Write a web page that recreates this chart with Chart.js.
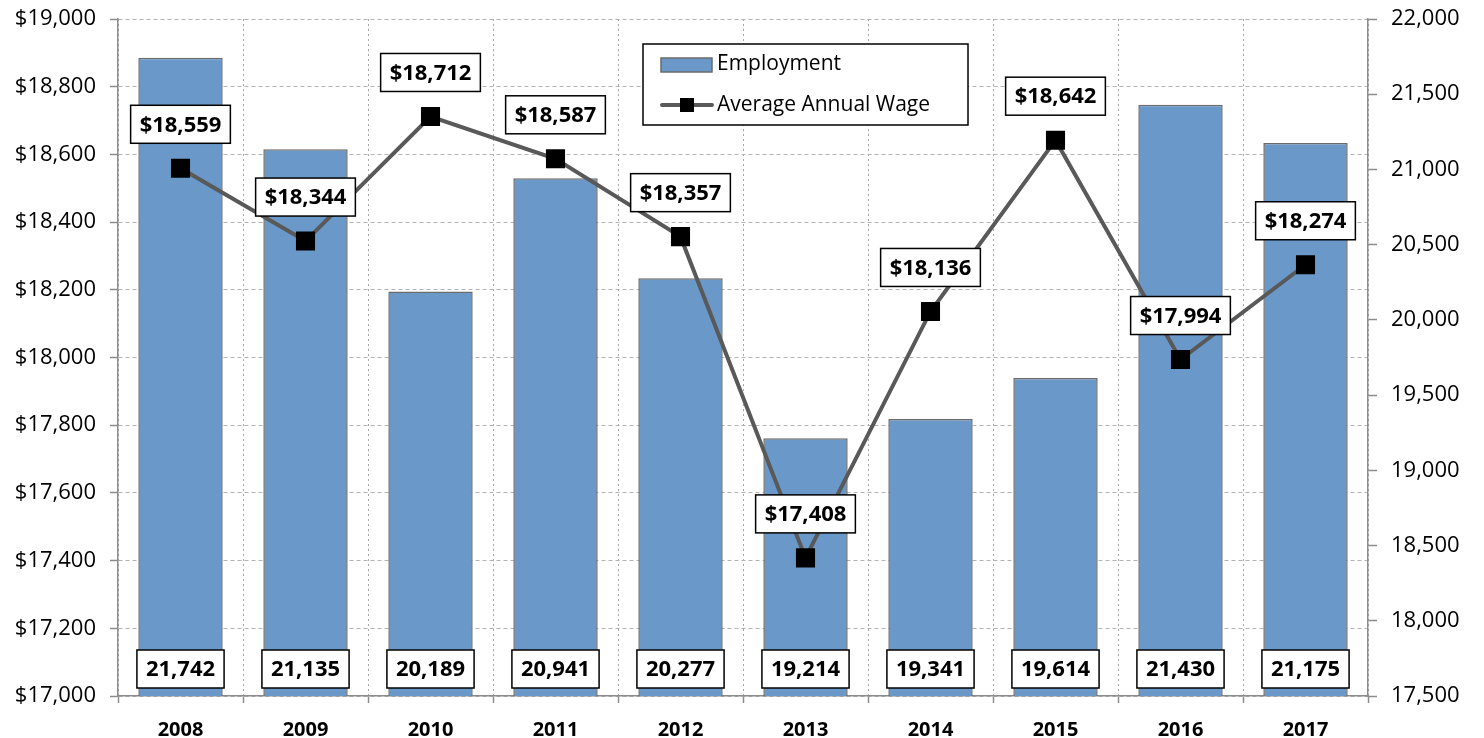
<!DOCTYPE html>
<html lang="en">
<head>
<meta charset="UTF-8">
<title>Employment and Average Annual Wage</title>
<script src="https://cdn.jsdelivr.net/npm/chart.js"></script>
<style>
  html, body { margin: 0; padding: 0; background: #fff; }
  #wrap { width: 1484px; height: 738px; }
</style>
</head>
<body>
<div id="wrap"><canvas id="chart"></canvas></div>
<script>
const years = ['2008', '2009', '2010', '2011', '2012', '2013', '2014', '2015', '2016', '2017'];
const employment = [21742, 21135, 20189, 20941, 20277, 19214, 19341, 19614, 21430, 21175];
const avgWage = [18559, 18344, 18712, 18587, 18357, 17408, 18136, 18642, 17994, 18274];

const FONT = '"Open Sans", "Liberation Sans", sans-serif';
const barFill = '#6a98c8';
const barEdge = '#6b6b6b';
const lineColor = '#595959';
const axisColor = '#8c8c8c';

function fmt(v) { return v.toLocaleString('en-US'); }

function labelBox(ctx, text, cx, cy) {
  ctx.font = 'bold 22px ' + FONT;
  const w = ctx.measureText(text).width + 18;
  const h = 38;
  ctx.fillStyle = '#fff';
  ctx.fillRect(cx - w / 2, cy - h / 2, w, h);
  ctx.strokeStyle = '#000';
  ctx.lineWidth = 1.5;
  ctx.strokeRect(cx - w / 2, cy - h / 2, w, h);
  ctx.fillStyle = '#000';
  ctx.textAlign = 'center';
  ctx.textBaseline = 'middle';
  ctx.fillText(text, cx, cy + 1);
}

const labelsPlugin = {
  id: 'boxLabels',
  afterDatasetsDraw(chart) {
    const ctx = chart.ctx;
    const bottom = chart.chartArea.bottom;
    ctx.save();
    chart.getDatasetMeta(0).data.forEach((bar, i) => {
      labelBox(ctx, fmt(employment[i]), bar.x, bottom - 27);
    });
    chart.getDatasetMeta(1).data.forEach((pt, i) => {
      labelBox(ctx, '$' + fmt(avgWage[i]), pt.x, pt.y - 44);
    });
    ctx.restore();
  }
};

const legendPlugin = {
  id: 'boxLegend',
  afterDraw(chart) {
    const ctx = chart.ctx;
    ctx.save();
    ctx.fillStyle = '#fff';
    ctx.fillRect(643, 44, 325, 81);
    ctx.strokeStyle = '#000';
    ctx.lineWidth = 1.5;
    ctx.strokeRect(643, 44, 325, 81);
    // bar swatch
    ctx.fillStyle = barFill;
    ctx.fillRect(661, 58, 51, 14);
    ctx.strokeStyle = barEdge;
    ctx.lineWidth = 1.5;
    ctx.strokeRect(661, 58, 51, 14);
    // line swatch
    ctx.strokeStyle = lineColor;
    ctx.lineWidth = 4;
    ctx.lineCap = 'round';
    ctx.beginPath();
    ctx.moveTo(662, 105);
    ctx.lineTo(712, 105);
    ctx.stroke();
    ctx.fillStyle = '#000';
    ctx.fillRect(680, 98, 14, 14);
    ctx.font = '21px ' + FONT;
    ctx.textAlign = 'left';
    ctx.textBaseline = 'middle';
    ctx.fillStyle = '#000';
    ctx.fillText('Employment', 717, 64);
    ctx.fillText('Average Annual Wage', 717, 105);
    ctx.restore();
  }
};

new Chart(document.getElementById('chart'), {
  data: {
    labels: years,
    datasets: [
      {
        type: 'bar',
        label: 'Employment',
        data: employment,
        yAxisID: 'yRight',
        backgroundColor: barFill,
        borderColor: barEdge,
        borderWidth: 1.5,
        barPercentage: 0.675,
        categoryPercentage: 1,
        order: 2
      },
      {
        type: 'line',
        label: 'Average Annual Wage',
        data: avgWage,
        yAxisID: 'yLeft',
        borderColor: lineColor,
        borderWidth: 4,
        pointStyle: 'rect',
        pointRadius: 13.5,
        pointBackgroundColor: '#000',
        pointBorderColor: '#000',
        pointBorderWidth: 0,
        tension: 0,
        order: 1
      }
    ]
  },
  options: {
    responsive: true,
    maintainAspectRatio: false,
    animation: false,
    layout: { padding: { top: 19, left: 0, right: 0, bottom: 0 } },
    plugins: {
      legend: { display: false },
      tooltip: { enabled: false }
    },
    scales: {
      x: {
        offset: true,
        grid: {
          offset: true,
          color: '#a6a6a6',
          lineWidth: 1,
          tickLength: 7,
          tickColor: axisColor,
          tickWidth: 1.5,
          tickBorderDash: []
        },
        border: { color: axisColor, width: 1.5, dash: [2, 3] },
        ticks: {
          color: '#000',
          font: { family: FONT, size: 20, weight: 'bold' },
          padding: 15
        },
        afterFit(scale) { scale.height = 42; }
      },
      yLeft: {
        position: 'left',
        min: 17000,
        max: 19000,
        ticks: {
          stepSize: 200,
          color: '#000',
          padding: 14,
          font: { family: FONT, size: 22 },
          callback: v => '$' + fmt(v)
        },
        grid: {
          color: '#b3b3b3',
          lineWidth: 1,
          tickLength: 8,
          tickColor: axisColor,
          tickWidth: 1.5,
          tickBorderDash: []
        },
        border: { color: axisColor, width: 1.5, dash: [4, 3] },
        afterFit(scale) { scale.width = 118; scale.paddingTop = 0; scale.paddingBottom = 0; }
      },
      yRight: {
        position: 'right',
        min: 17500,
        max: 22000,
        ticks: {
          stepSize: 500,
          color: '#000',
          padding: 14,
          font: { family: FONT, size: 22 },
          callback: v => fmt(v)
        },
        grid: {
          drawOnChartArea: false,
          tickLength: 9,
          tickColor: axisColor,
          tickWidth: 1.5
        },
        border: { color: axisColor, width: 1.5 },
        afterFit(scale) { scale.width = 116; scale.paddingTop = 0; scale.paddingBottom = 0; }
      }
    }
  },
  plugins: [labelsPlugin, legendPlugin]
});
</script>
</body>
</html>
